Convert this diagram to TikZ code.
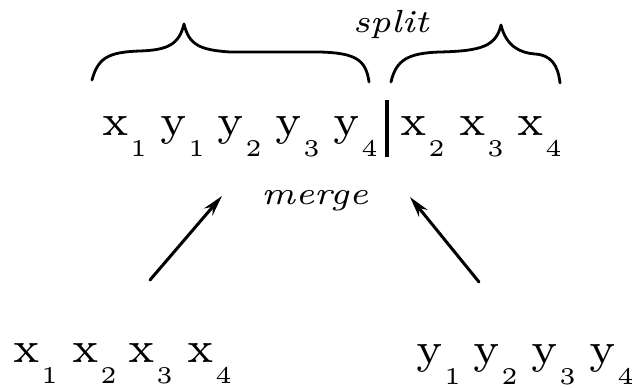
\documentclass[tikz,border=0pt]{standalone}
\usepackage{fontspec}
\usepackage{graphicx}
\newfontfamily\rmheavy{lmroman7-regular.otf}
\newfontfamily\rmsub{lmroman5-regular.otf}
\newfontfamily\itheavy{lmroman7-italic.otf}
\usetikzlibrary{arrows.meta}
\newcommand{\elm}[2]{#1\kern2pt\raisebox{-21pt}{\rmsub\fontsize{24}{24}\selectfont #2}}
\begin{document}
\begin{tikzpicture}[x=1pt,y=-1pt,
  el/.style={anchor=base west, inner sep=0pt, outer sep=0pt, font=\rmheavy\fontsize{44}{50}\selectfont},
  lab/.style={inner sep=0pt, font=\itheavy\fontsize{32}{36}\selectfont},
  brace/.style={line width=2.8pt, line cap=round, line join=round},
  arr/.style={line width=3pt, line cap=round, -{Stealth[length=21pt,width=11pt]}},
  bar/.style={line width=4.5pt}]
\useasboundingbox (0,0) rectangle (637,388);
% top row
\node[el] (t1) at (102,135) {\elm{x}{1}};
\node[el] (t2) at (160,135) {\elm{y}{1}};
\node[el] (t3) at (217,135) {\elm{y}{2}};
\node[el] (t4) at (275,135) {\elm{y}{3}};
\node[el] (t5) at (333,135) {\elm{y}{4}};
\node[el] (t6) at (400,135) {\elm{x}{2}};
\node[el] (t7) at (459,135) {\elm{x}{3}};
\node[el] (t8) at (517,135) {\elm{x}{4}};
\coordinate (bartop) at (387,100);
\coordinate (barbot) at (387,157);
\draw[bar] (bartop) -- (barbot);
% braces
\draw[brace] (92,80) .. controls (98,58) and (108,52) .. (140,51)
  .. controls (167,50) and (179,45) .. (184,24)
  .. controls (189,45) and (200,50) .. (230,52) -- (320,52)
  .. controls (356,53) and (366,60) .. (369,82);
\draw[brace] (391,82) .. controls (396,60) and (408,53) .. (440,52)
  .. controls (482,51) and (496,46) .. (501,25)
  .. controls (506,46) and (520,53) .. (535,54)
  .. controls (551,55) and (558,65) .. (560,83);
\node[lab] (split) at (391,24.5) {\scalebox{1.09}[1]{split}};
\node[lab] (merge) at (315,201) {\scalebox{1.1}[1]{merge}};
% arrows
\coordinate (a1s) at (150,280);
\coordinate (a1e) at (222,196);
\coordinate (a2s) at (479,282);
\coordinate (a2e) at (410,197);
\draw[arr] (a1s) -- (a1e);
\draw[arr] (a2s) -- (a2e);
% bottom rows
\node[el] (b1) at (13,362) {\elm{x}{1}};
\node[el] (b2) at (72,362) {\elm{x}{2}};
\node[el] (b3) at (128,362) {\elm{x}{3}};
\node[el] (b4) at (187,362) {\elm{x}{4}};
\node[el] (c1) at (416,363) {\elm{y}{1}};
\node[el] (c2) at (473,363) {\elm{y}{2}};
\node[el] (c3) at (531,363) {\elm{y}{3}};
\node[el] (c4) at (589,363) {\elm{y}{4}};
\end{tikzpicture}
\end{document}
